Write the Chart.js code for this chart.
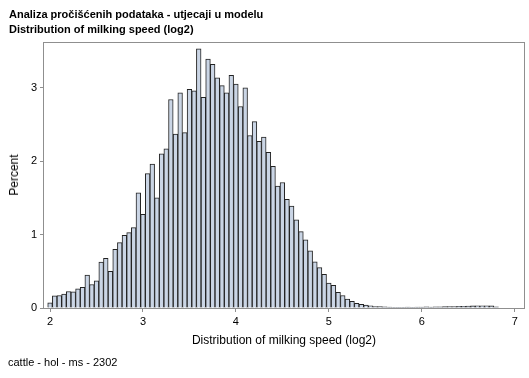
<!DOCTYPE html>
<html>
<head>
<meta charset="utf-8">
<script src="https://cdn.jsdelivr.net/npm/chart.js@4"></script>
<style>
  html, body { margin: 0; padding: 0; background: #fff; }
  #wrap { position: relative; width: 529px; height: 378px; overflow: hidden; font-family: "Liberation Sans", Arial, sans-serif; color: #000; }
  canvas { position: absolute; left: 0; top: 0; }
  .t { position: absolute; white-space: nowrap; }
  #t1 { left: 9px; top: 8px; font-size: 11px; font-weight: bold; }
  #t2 { left: 9px; top: 23px; font-size: 11px; font-weight: bold; }
  #xt { left: 44px; width: 480px; text-align: center; top: 333px; font-size: 12px; }
  #yt { left: 14px; top: 175px; font-size: 12px; transform: translate(-50%, -50%) rotate(-90deg); }
  #fn { left: 8px; top: 356px; font-size: 11px; }
</style>
</head>
<body>
<div id="wrap">
  <canvas id="c" width="529" height="378"></canvas>
  <div class="t" id="t1">Analiza pročišćenih podataka - utjecaji u modelu</div>
  <div class="t" id="t2">Distribution of milking speed (log2)</div>
  <div class="t" id="xt">Distribution of milking speed (log2)</div>
  <div class="t" id="yt">Percent</div>
  <div class="t" id="fn">cattle - hol - ms - 2302</div>
</div>
<script>
const binCenters = [
  2.00, 2.05, 2.10, 2.15, 2.20, 2.25, 2.30, 2.35, 2.40, 2.45,
  2.50, 2.55, 2.60, 2.65, 2.70, 2.75, 2.80, 2.85, 2.90, 2.95,
  3.00, 3.05, 3.10, 3.15, 3.20, 3.25, 3.30, 3.35, 3.40, 3.45,
  3.50, 3.55, 3.60, 3.65, 3.70, 3.75, 3.80, 3.85, 3.90, 3.95,
  4.00, 4.05, 4.10, 4.15, 4.20, 4.25, 4.30, 4.35, 4.40, 4.45,
  4.50, 4.55, 4.60, 4.65, 4.70, 4.75, 4.80, 4.85, 4.90, 4.95,
  5.00, 5.05, 5.10, 5.15, 5.20, 5.25, 5.30, 5.35, 5.40, 5.45,
  5.50, 5.55, 5.60, 5.65, 5.70, 5.75, 5.80, 5.85, 5.90, 5.95,
  6.00, 6.05, 6.10, 6.15, 6.20, 6.25, 6.30, 6.35, 6.40, 6.45,
  6.50, 6.55, 6.60, 6.65, 6.70, 6.75, 6.80
];
const percentValues = [
  0.07, 0.167, 0.17, 0.19, 0.225, 0.22, 0.26, 0.28, 0.45, 0.32,
  0.37, 0.625, 0.675, 0.50, 0.80, 0.89, 0.99, 1.026, 1.094, 1.57,
  1.275, 1.83, 1.96, 1.50, 2.10, 2.17, 2.84, 2.37, 2.93, 2.39,
  2.98, 2.96, 3.53, 2.87, 3.39, 3.32, 3.135, 3.03, 2.93, 3.17,
  3.05, 2.745, 3.00, 2.35, 2.54, 2.27, 2.33, 2.12, 1.93, 1.66,
  1.71, 1.48, 1.39, 1.20, 1.04, 0.93, 0.78, 0.63, 0.55, 0.46,
  0.34, 0.31, 0.215, 0.17, 0.12, 0.09, 0.065, 0.05, 0.04, 0.03,
  0.02, 0.02, 0.015, 0.012, 0.01, 0.01, 0.01, 0.012, 0.01, 0.012,
  0.012, 0.015, 0.012, 0.015, 0.015, 0.018, 0.02, 0.02, 0.022, 0.022,
  0.025, 0.028, 0.03, 0.03, 0.03, 0.028, 0.015
];
const xTickValues = [2, 3, 4, 5, 6, 7];
const yTickValues = [0, 1, 2, 3];

const framePlugin = {
  id: 'frame',
  afterDraw(chart) {
    const a = chart.chartArea;
    const ctx = chart.ctx;
    ctx.save();
    ctx.strokeStyle = '#8f8f8f';
    ctx.lineWidth = 1;
    ctx.strokeRect(Math.round(a.left) - 0.5, Math.round(a.top) - 0.5,
                   Math.round(a.right - a.left) + 1, Math.round(a.bottom - a.top) + 1);
    ctx.restore();
  }
};

new Chart(document.getElementById('c'), {
  type: 'bar',
  data: {
    datasets: [{
      data: binCenters.map((x, i) => ({ x: x, y: percentValues[i] })),
      backgroundColor: '#cad5e5',
      borderColor: '#222222',
      borderWidth: 1,
      barPercentage: 1.0,
      categoryPercentage: 1.0,
      grouped: false
    }]
  },
  options: {
    responsive: false,
    animation: false,
    devicePixelRatio: 1,
    layout: { padding: { left: 0, right: 5, top: 43, bottom: 0 } },
    plugins: { legend: { display: false }, tooltip: { enabled: false }, title: { display: false } },
    scales: {
      x: {
        type: 'linear',
        offset: false,
        min: 1.935,
        max: 7.1,
        afterBuildTicks: (s) => { s.ticks = xTickValues.map(v => ({ value: v })); },
        afterFit: (s) => { s.height = 70; },
        grid: { offset: false, drawOnChartArea: false, drawTicks: true, tickLength: 4, color: '#8f8f8f' },
        border: { display: false },
        ticks: { color: '#000', font: { family: 'Liberation Sans', size: 11 }, padding: 3, maxRotation: 0, autoSkip: false }
      },
      y: {
        min: 0,
        max: 3.61,
        afterBuildTicks: (s) => { s.ticks = yTickValues.map(v => ({ value: v })); },
        afterFit: (s) => { s.width = 44; },
        grid: { drawOnChartArea: false, drawTicks: true, tickLength: 4, color: '#8f8f8f' },
        border: { display: false },
        ticks: { color: '#000', font: { family: 'Liberation Sans', size: 11 }, padding: 3 }
      }
    }
  },
  plugins: [framePlugin]
});
</script>
</body>
</html>
